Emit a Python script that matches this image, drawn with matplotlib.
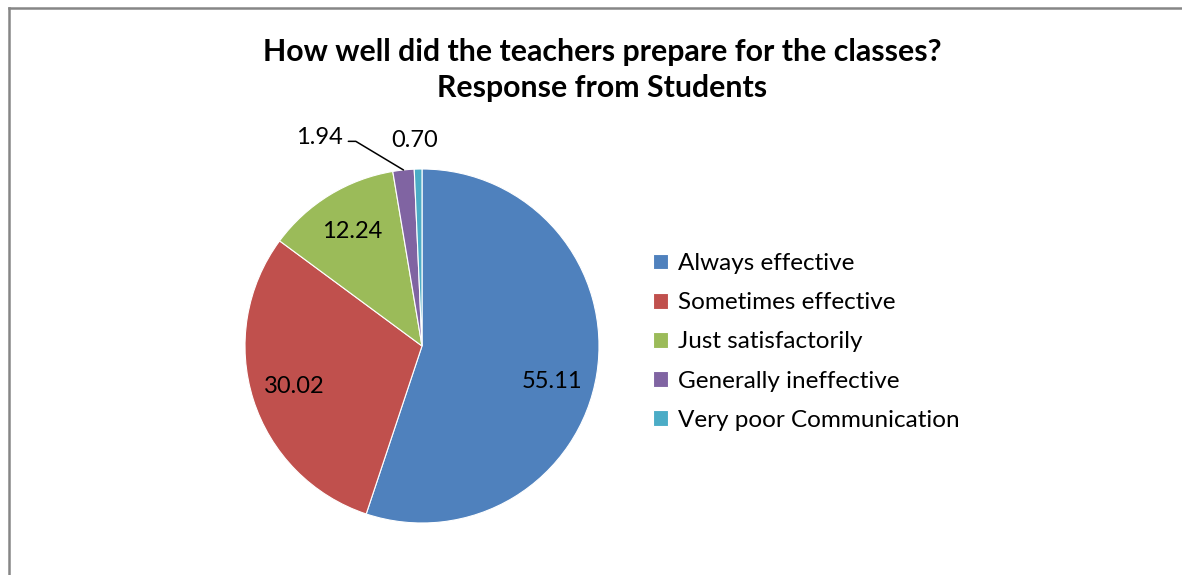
import numpy as np
import matplotlib
matplotlib.use("Agg")
import matplotlib.pyplot as plt
from matplotlib.lines import Line2D

plt.rcParams["font.family"] = ["Lato", "DejaVu Sans"]

categories = ["Always effective", "Sometimes effective", "Just satisfactorily",
              "Generally ineffective", "Very poor Communication"]
values = [55.11, 30.02, 12.24, 1.94, 0.70]
value_labels = ["55.11", "30.02", "12.24", "1.94", "0.70"]
colors = ["#4F81BD", "#C0504D", "#9BBB59", "#8064A2", "#4BACC6"]

W, H = 1182, 575
fig = plt.figure(figsize=(W / 100, H / 100), dpi=100)

# chart frame (only top and left edges visible in the crop)
fig.add_artist(Line2D([9 / W, 9 / W], [0, 1 - 8 / H], color="#868686", lw=1.8))
fig.add_artist(Line2D([9 / W, 1], [1 - 8 / H, 1 - 8 / H], color="#868686", lw=1.8))

fig.text(602 / W, 1 - 52 / H, "How well did the teachers prepare for the classes?",
         ha="center", va="center", fontsize=21.8, fontweight="bold")
fig.text(602 / W, 1 - 88 / H, "Response from Students",
         ha="center", va="center", fontsize=21.8, fontweight="bold")

cx, cy, r = 422, 346, 177
ax = fig.add_axes([(cx - r) / W, (H - cy - r) / H, 2 * r / W, 2 * r / H])
wedges, _ = ax.pie(values, colors=colors, startangle=90, counterclock=False,
                   wedgeprops=dict(edgecolor="white", linewidth=0.8))
ax.set_xlim(-1, 1)
ax.set_ylim(-1, 1)
ax.set_aspect("equal")
ax.axis("off")

for i, w in enumerate(wedges):
    mid = np.deg2rad((w.theta1 + w.theta2) / 2)
    if i == 0:
        mid -= np.deg2rad(6)
    if i < 3:
        ax.text(0.76 * np.cos(mid), 0.76 * np.sin(mid), value_labels[i],
                ha="center", va="center", fontsize=17)
    elif i == 3:
        ex, ey = np.cos(mid), np.sin(mid)
        ax.annotate(value_labels[i], xy=(ex, ey), xytext=(-0.58, 1.18),
                    ha="center", va="center", fontsize=17, annotation_clip=False,
                    arrowprops=dict(arrowstyle="-", color="black", lw=1.1,
                                    connectionstyle="angle,angleA=0,angleB=149,rad=0",
                                    shrinkA=0, shrinkB=0, relpos=(1.12, 0.3)))
    else:
        ax.text(-0.04, 1.16, value_labels[i], ha="center", va="center", fontsize=17)

fig.legend(wedges, categories, loc="upper left",
           bbox_to_anchor=(653 / W, 1 - 253 / H), frameon=False, fontsize=17.5,
           handlelength=0.62, handleheight=0.62, handletextpad=0.4,
           labelspacing=0.75, borderaxespad=0, borderpad=0)

fig.savefig("out.png", dpi=100, facecolor="white")
